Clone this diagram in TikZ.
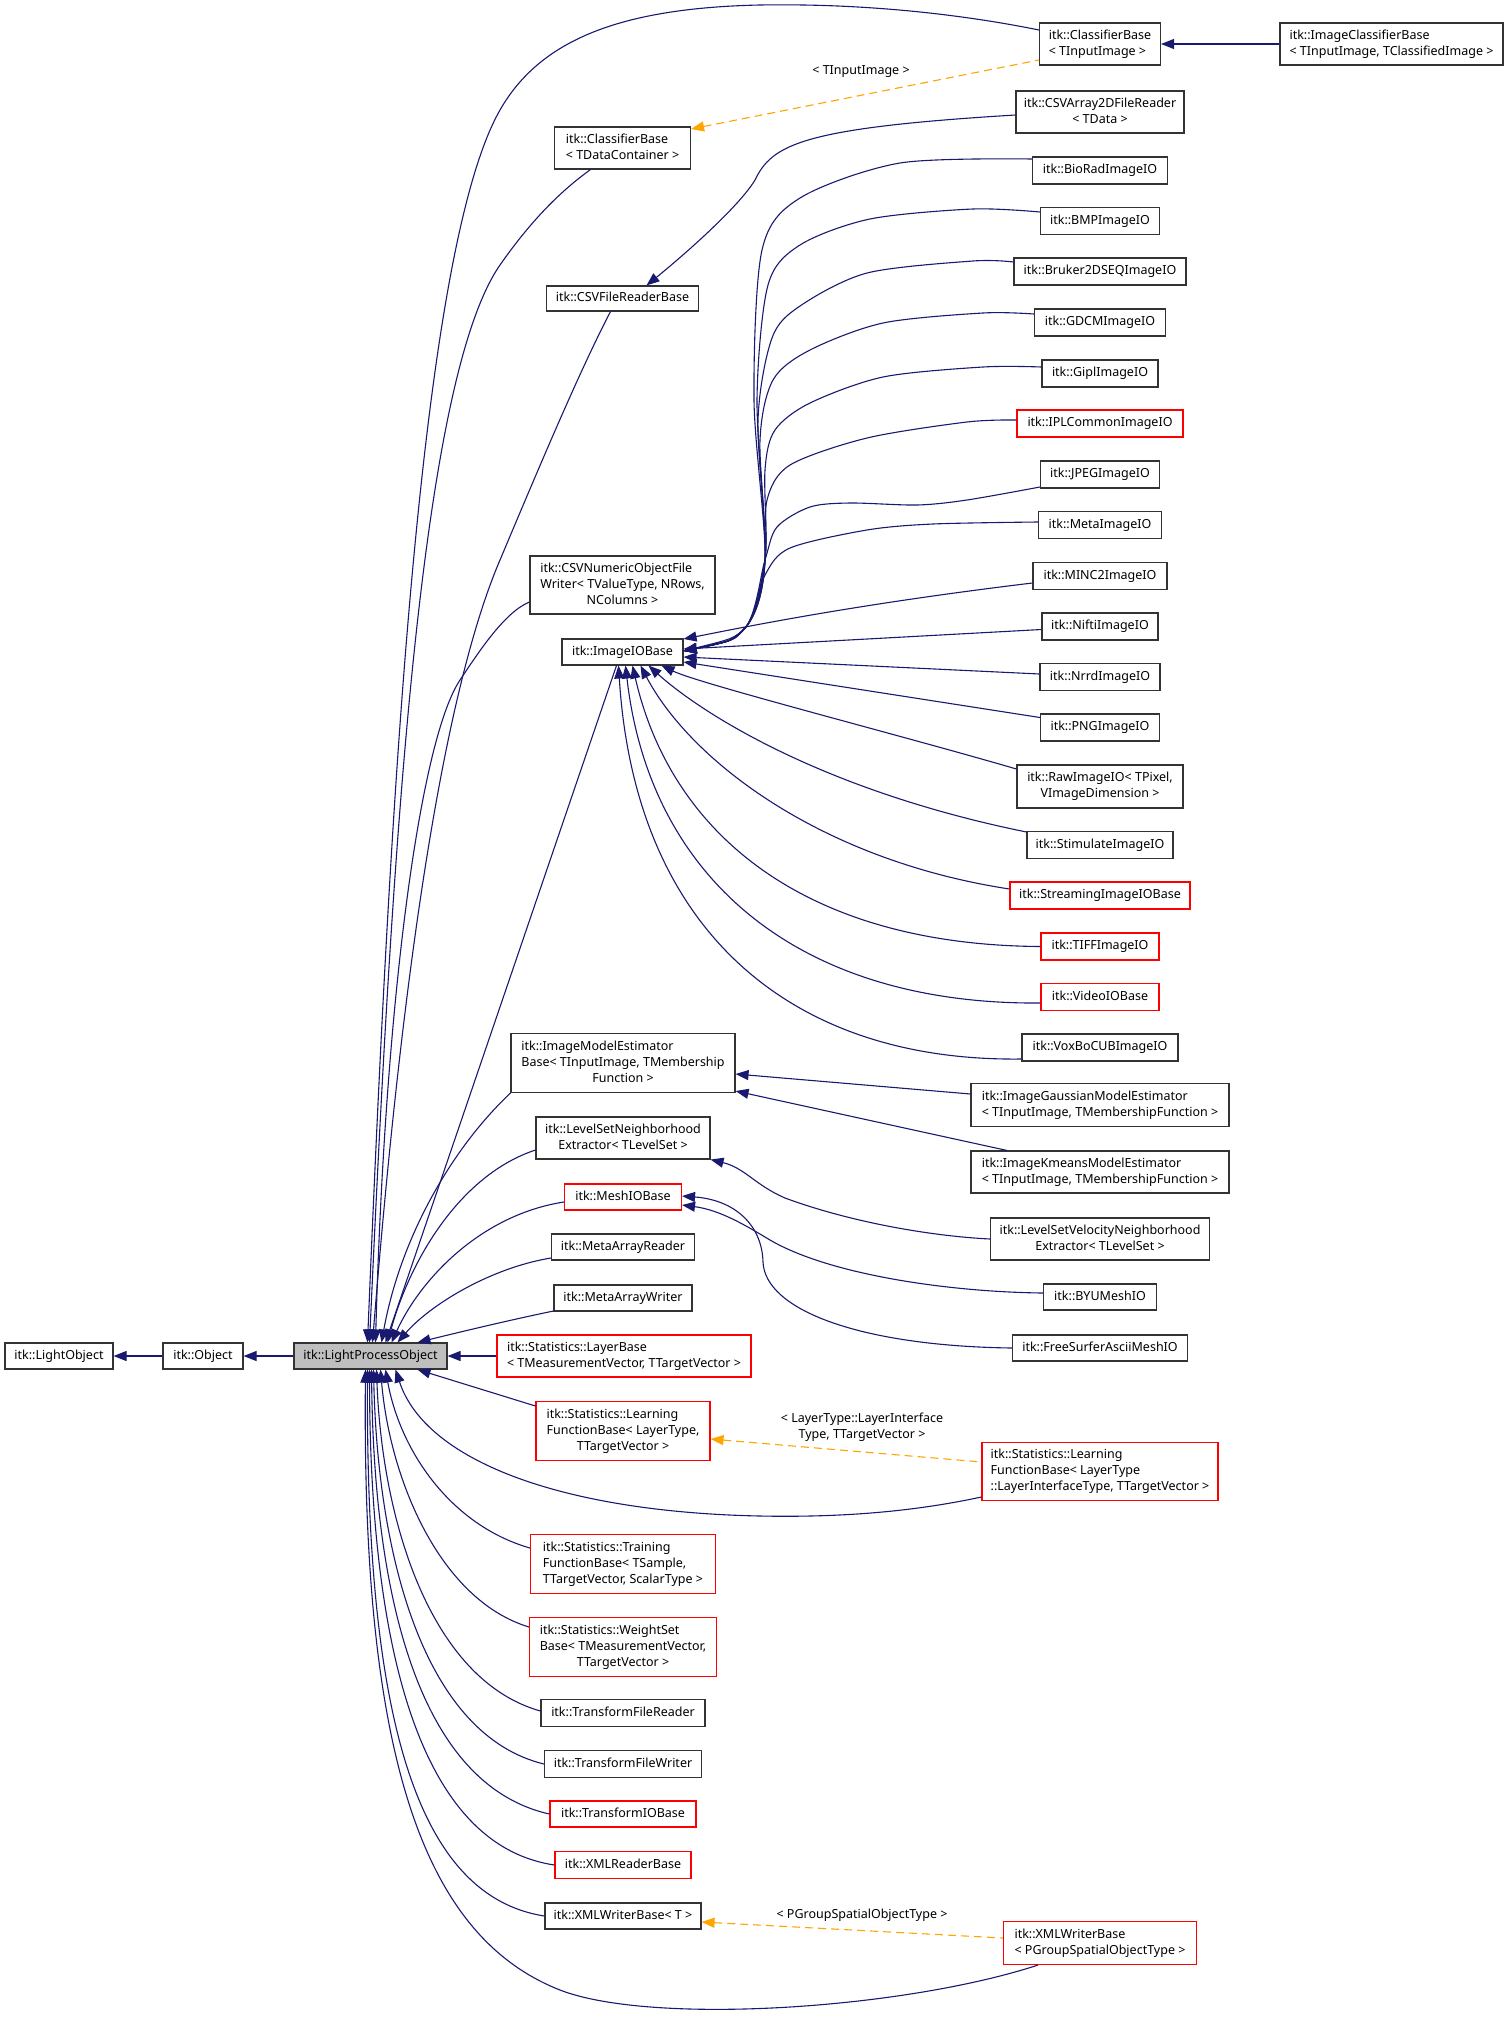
\documentclass[tikz,border=0pt]{standalone}
\usepackage{fontspec}
\setmainfont{Noto Sans}
\usetikzlibrary{arrows.meta}
\definecolor{edgeblue}{HTML}{191970}
\definecolor{boxline}{HTML}{333333}
\definecolor{boxred}{HTML}{FF0000}
\definecolor{tmplorange}{HTML}{FFA500}
\definecolor{lpofill}{HTML}{BFBFBF}
\newcommand\nodefont{\fontsize{12.5}{16}\selectfont}
\newcommand\txtl[1]{\begin{tabular}{@{}l@{}}#1\end{tabular}}
\newcommand\txtc[1]{\begin{tabular}{@{}c@{}}#1\end{tabular}}
\newcommand\lastc[1]{\multicolumn{1}{@{}c@{}}{#1}}
\tikzset{
  box/.style={draw=boxline, line width=1.1pt, fill=white, inner sep=0pt, font=\nodefont, text=black},
  rbox/.style={box, draw=boxred},
  gbox/.style={box, fill=lpofill},
  inh/.style={draw=edgeblue, line width=1.1pt, {Triangle[length=13pt,width=10pt]}-},
  tmpl/.style={draw=tmplorange, line width=1.1pt, dash pattern=on 8pt off 5pt, {Triangle[length=13pt,width=10pt]}-},
  lbl/.style={font=\nodefont, inner sep=0pt, text=black},
}
\begin{document}
\begin{tikzpicture}[x=1pt,y=-1pt]
\useasboundingbox (0,0) rectangle (1509,2018);
\fill[white] (0,0) rectangle (1509,2018);

% ---------- left chain
\node[box,minimum width=108pt,minimum height=26pt] (lo) at (59,1356) {\txtl{itk::LightObject}};
\node[box,minimum width=80pt,minimum height=26pt] (obj) at (203,1356) {\txtl{itk::Object}};
\node[gbox,minimum width=153pt,minimum height=26pt] (lpo) at (370.5,1356) {\txtl{itk::LightProcessObject}};

% ---------- middle column
\node[box,minimum width=136pt,minimum height=42pt] (cb1) at (622.5,148) {\txtl{itk::ClassifierBase\\< TDataContainer >}};
\node[box,minimum width=152pt,minimum height=25pt] (csvr) at (622.5,298.5) {\txtl{itk::CSVFileReaderBase}};
\node[box,minimum width=185pt,minimum height=58pt] (csvw) at (622.5,585) {\txtl{itk::CSVNumericObjectFile\\Writer< TValueType, NRows,\\\lastc{NColumns >}}};
\node[box,minimum width=121pt,minimum height=26pt] (iio) at (622.5,652) {\txtl{itk::ImageIOBase}};
\node[box,minimum width=224pt,minimum height=59pt] (imeb) at (623,1063) {\txtl{itk::ImageModelEstimator\\Base< TInputImage, TMembership\\\lastc{Function >}}};
\node[box,minimum width=174pt,minimum height=42pt] (lsne) at (623,1138) {\txtc{itk::LevelSetNeighborhood\\Extractor< TLevelSet >}};
\node[rbox,minimum width=117pt,minimum height=26pt] (mesh) at (623,1197) {\txtl{itk::MeshIOBase}};
\node[box,minimum width=143pt,minimum height=26pt] (mar) at (623,1247) {\txtl{itk::MetaArrayReader}};
\node[box,minimum width=138pt,minimum height=26pt] (maw) at (623,1298) {\txtl{itk::MetaArrayWriter}};
\node[rbox,minimum width=254pt,minimum height=42pt] (layer) at (624,1356) {\txtl{itk::Statistics::LayerBase\\< TMeasurementVector, TTargetVector >}};
\node[rbox,minimum width=174pt,minimum height=59pt] (lfb) at (623,1431) {\txtl{itk::Statistics::Learning\\FunctionBase< LayerType,\\\lastc{TTargetVector >}}};
\node[rbox,minimum width=185pt,minimum height=59pt] (tfb) at (623,1564) {\txtl{itk::Statistics::Training\\FunctionBase< TSample,\\\lastc{TTargetVector, ScalarType >}}};
\node[rbox,minimum width=187pt,minimum height=59pt] (wsb) at (623,1647) {\txtl{itk::Statistics::WeightSet\\Base< TMeasurementVector,\\\lastc{TTargetVector >}}};
\node[box,minimum width=164pt,minimum height=27pt] (tfr) at (623,1713) {\txtl{itk::TransformFileReader}};
\node[box,minimum width=157pt,minimum height=27pt] (tfw) at (623,1764) {\txtl{itk::TransformFileWriter}};
\node[rbox,minimum width=146pt,minimum height=26pt] (tio) at (623,1814) {\txtl{itk::TransformIOBase}};
\node[rbox,minimum width=136pt,minimum height=27pt] (xrb) at (623,1865) {\txtl{itk::XMLReaderBase}};
\node[box,minimum width=156pt,minimum height=26pt] (xwb) at (623,1916) {\txtl{itk::XMLWriterBase< T >}};

% ---------- right column
\node[box,minimum width=121pt,minimum height=42pt] (cb2) at (1100,44) {\txtl{itk::ClassifierBase\\< TInputImage >}};
\node[box,minimum width=223pt,minimum height=42pt] (icb) at (1391.5,44) {\txtl{itk::ImageClassifierBase\\< TInputImage, TClassifiedImage >}};
\node[box,minimum width=168pt,minimum height=42pt] (csva) at (1100,112) {\txtc{itk::CSVArray2DFileReader\\< TData >}};
\node[box,minimum width=135pt,minimum height=27pt] (bio) at (1100,170.5) {\txtl{itk::BioRadImageIO}};
\node[box,minimum width=119pt,minimum height=27pt] (bmp) at (1100,221) {\txtl{itk::BMPImageIO}};
\node[box,minimum width=172pt,minimum height=27pt] (bruker) at (1100,271.5) {\txtl{itk::Bruker2DSEQImageIO}};
\node[box,minimum width=131pt,minimum height=27pt] (gdcm) at (1100,322.5) {\txtl{itk::GDCMImageIO}};
\node[box,minimum width=116pt,minimum height=27pt] (gipl) at (1100,373.5) {\txtl{itk::GiplImageIO}};
\node[rbox,minimum width=166pt,minimum height=27pt] (ipl) at (1100,423.5) {\txtl{itk::IPLCommonImageIO}};
\node[box,minimum width=119pt,minimum height=27pt] (jpeg) at (1100,474.5) {\txtl{itk::JPEGImageIO}};
\node[box,minimum width=123pt,minimum height=27pt] (metaio) at (1100,525) {\txtl{itk::MetaImageIO}};
\node[box,minimum width=134pt,minimum height=27pt] (minc) at (1100,576) {\txtl{itk::MINC2ImageIO}};
\node[box,minimum width=116pt,minimum height=27pt] (nifti) at (1100,626.5) {\txtl{itk::NiftiImageIO}};
\node[box,minimum width=120pt,minimum height=27pt] (nrrd) at (1100,677) {\txtl{itk::NrrdImageIO}};
\node[box,minimum width=119pt,minimum height=27pt] (png) at (1100,727.5) {\txtl{itk::PNGImageIO}};
\node[box,minimum width=166pt,minimum height=43pt] (raw) at (1100,786.5) {\txtc{itk::RawImageIO< TPixel,\\VImageDimension >}};
\node[box,minimum width=146pt,minimum height=27pt] (stim) at (1100,845) {\txtl{itk::StimulateImageIO}};
\node[rbox,minimum width=180pt,minimum height=27pt] (stream) at (1100,895.5) {\txtl{itk::StreamingImageIOBase}};
\node[rbox,minimum width=118pt,minimum height=27pt] (tiff) at (1100,946.5) {\txtl{itk::TIFFImageIO}};
\node[rbox,minimum width=118pt,minimum height=27pt] (video) at (1100,997) {\txtl{itk::VideoIOBase}};
\node[box,minimum width=156pt,minimum height=27pt] (voxbo) at (1100,1047.5) {\txtl{itk::VoxBoCUBImageIO}};
\node[box,minimum width=258pt,minimum height=43pt] (gauss) at (1100,1105) {\txtl{itk::ImageGaussianModelEstimator\\< TInputImage, TMembershipFunction >}};
\node[box,minimum width=258pt,minimum height=42pt] (kmeans) at (1100,1172) {\txtl{itk::ImageKmeansModelEstimator\\< TInputImage, TMembershipFunction >}};
\node[box,minimum width=219pt,minimum height=42pt] (lsv) at (1100,1239) {\txtc{itk::LevelSetVelocityNeighborhood\\Extractor< TLevelSet >}};
\node[box,minimum width=113pt,minimum height=26pt] (byu) at (1100,1297) {\txtl{itk::BYUMeshIO}};
\node[box,minimum width=175pt,minimum height=26pt] (fs) at (1100,1348) {\txtl{itk::FreeSurferAsciiMeshIO}};
\node[rbox,minimum width=236pt,minimum height=58pt] (lfb2) at (1100,1471.5) {\txtl{itk::Statistics::Learning\\FunctionBase< LayerType\\::LayerInterfaceType, TTargetVector >}};
\node[rbox,minimum width=193pt,minimum height=43pt] (xwb2) at (1100,1943) {\txtl{itk::XMLWriterBase\\< PGroupSpatialObjectType >}};

% ---------- edge labels
\node[lbl] (l1) at (861,72) {< TInputImage >};
\node[lbl] (l2) at (862,1427) {\txtc{< LayerType::LayerInterface\\Type, TTargetVector >}};
\node[lbl] (l3) at (862,1915) {< PGroupSpatialObjectType >};

% ---------- simple edges
\draw[inh] (lo.east) -- (obj.west);
\draw[inh] (obj.east) -- (lpo.west);
\draw[inh] (cb2.east) -- (icb.west);
\draw[inh] (lpo.east) -- (layer.west);

% ---------- template instantiations
\draw[tmpl] ([yshift=19pt]cb1.east) -- ([yshift=-16pt]cb2.west);
\draw[tmpl] ([yshift=-8pt]lfb.east) -- ([yshift=9.5pt]lfb2.west);
\draw[tmpl] ([yshift=-6pt]xwb.east) -- ([yshift=5pt]xwb2.west);

% ---------- edges into LightProcessObject (top)
\draw[inh] ([xshift=-3pt]lpo.north) .. controls (390,800) and (420,250) .. (500,110)
  .. controls (540,40) and (620,8) .. (760,5) .. controls (880,3) and (980,18) .. ([yshift=14pt]cb2.west);
\draw[inh] ([xshift=-1pt]lpo.north) .. controls (392,850) and (420,380) .. (500,265)
  .. controls (535,215) and (565,188) .. ([xshift=-32pt]cb1.south);
\draw[inh] ([xshift=2pt]lpo.north) .. controls (400,1000) and (440,700) .. (500,560)
  .. controls (540,465) and (580,370) .. ([xshift=-12pt]csvr.south);
\draw[inh] ([xshift=5pt]lpo.north) .. controls (385,1000) and (420,740) .. (460,680)
  .. controls (480,650) and (505,612) .. ([yshift=-17pt]csvw.west);
\draw[inh] ([xshift=15pt]lpo.north) -- ([xshift=-6pt]iio.south);
\draw[inh] ([xshift=11pt]lpo.north) .. controls (400,1240) and (450,1150) .. (imeb.south west);
\draw[inh] ([xshift=17pt]lpo.north) .. controls (410,1260) and (460,1175) .. ([yshift=-12pt]lsne.west);
\draw[inh] ([xshift=21pt]lpo.north) .. controls (420,1280) and (480,1215) .. ([yshift=-5pt]mesh.west);
\draw[inh] ([xshift=27pt]lpo.north) .. controls (430,1305) and (490,1268) .. ([yshift=-11pt]mar.west);
\draw[inh] ([xshift=47pt]lpo.north) .. controls (460,1332) and (510,1320) .. ([yshift=-13pt]maw.west);

% ---------- edges into LightProcessObject (bottom)
\draw[inh] ([xshift=47pt]lpo.south) -- ([yshift=25pt]lfb.west);
\draw[inh] ([xshift=25pt]lpo.south) .. controls (425,1460) and (560,1512) .. (760,1516)
  .. controls (860,1518) and (930,1508) .. ([yshift=-25.5pt]lfb2.west);
\draw[inh] ([xshift=15pt]lpo.south) .. controls (400,1450) and (450,1525) .. ([yshift=16pt]tfb.west);
\draw[inh] ([xshift=10pt]lpo.south) .. controls (390,1480) and (440,1600) .. ([yshift=20pt]wsb.west);
\draw[inh] ([xshift=6pt]lpo.south) .. controls (382,1520) and (430,1680) .. ([yshift=2pt]tfr.west);
\draw[inh] ([xshift=3pt]lpo.south) .. controls (378,1560) and (425,1735) .. (tfw.west);
\draw[inh] ([xshift=1pt]lpo.south) .. controls (374,1600) and (420,1785) .. (tio.west);
\draw[inh] ([xshift=-1pt]lpo.south) .. controls (370,1650) and (420,1845) .. (xrb.west);
\draw[inh] ([xshift=-3pt]lpo.south) .. controls (366,1700) and (410,1895) .. (xwb.west);
\draw[inh] ([xshift=-5pt]lpo.south) .. controls (362,1750) and (420,1935) .. (560,1990)
  .. controls (650,2025) and (900,2010) .. ([xshift=-62pt]xwb2.south);

% ---------- CSV reader
\draw[inh] ([xshift=24pt]csvr.north) .. controls (690,250) and (740,205) .. (755,180)
  .. controls (772,145) and (800,128) .. ([yshift=-3pt]csva.west);

% ---------- ImageIOBase bundle (from above)
\draw[inh] plot[smooth] coordinates {([yshift=1pt]iio.east) (745,628) (765,560) (754,400) (762,250) (800,198) (900,163) ([yshift=11.5pt]bio.west)};
\draw[inh] plot[smooth] coordinates {([yshift=1pt]iio.east) (745,628) (765,560) (757,400) (768,285) (800,245) (870,219) (973,209) ([yshift=9pt]bmp.west)};
\draw[inh] plot[smooth] coordinates {([yshift=1pt]iio.east) (745,628) (765,560) (758,420) (772,338) (800,306) (867,273) (973,261) ([yshift=9.5pt]bruker.west)};
\draw[inh] plot[smooth] coordinates {([yshift=1pt]iio.east) (745,628) (765,560) (760,440) (773,380) (810,350) (883,323) (983,313) ([yshift=8.5pt]gdcm.west)};
\draw[inh] plot[smooth] coordinates {([yshift=1pt]iio.east) (745,628) (765,560) (765,470) (775,430) (810,403) (883,377) (983,367) ([yshift=6.5pt]gipl.west)};
\draw[inh] plot[smooth] coordinates {([yshift=1pt]iio.east) (745,628) (765,560) (767,500) (790,465) (867,438) (967,422) ([yshift=3.5pt]ipl.west)};
\draw[inh] plot[smooth] coordinates {([yshift=1pt]iio.east) (745,628) (765,560) (777,527) (810,507) (850,503) (917,505) (967,500) ([yshift=-12.5pt]jpeg.west)};
\draw[inh] plot[smooth] coordinates {([yshift=1pt]iio.east) (745,628) (765,575) (790,548) (867,530) (933,524) ([yshift=3pt]metaio.west)};

% ---------- ImageIOBase (right side, straight)
\draw[inh] ([yshift=13pt]iio.east) .. controls (740,628) and (850,605) .. ([yshift=-7pt]minc.west);
\draw[inh] ([yshift=3pt]iio.east) -- ([yshift=-3pt]nifti.west);
\draw[inh] ([yshift=-5pt]iio.east) -- ([yshift=3pt]nrrd.west);
\draw[inh] ([yshift=-10pt]iio.east) -- ([yshift=10pt]png.west);

% ---------- ImageIOBase (bottom)
\draw[inh] ([xshift=39pt]iio.south) .. controls (700,684) and (900,735) .. ([yshift=17.5pt]raw.west);
\draw[inh] ([xshift=26pt]iio.south) .. controls (700,712) and (820,790) .. ([yshift=13pt]stim.west);
\draw[inh] ([xshift=18pt]iio.south) .. controls (690,760) and (820,860) .. ([yshift=6.5pt]stream.west);
\draw[inh] ([xshift=10pt]iio.south) .. controls (670,830) and (800,945) .. (tiff.west);
\draw[inh] ([xshift=3pt]iio.south) .. controls (650,880) and (800,1005) .. ([yshift=-6pt]video.west);
\draw[inh] ([xshift=-4pt]iio.south) .. controls (635,930) and (790,1062) .. ([yshift=-11.5pt]voxbo.west);

% ---------- model estimators
\draw[inh] ([yshift=-11pt]imeb.east) -- ([yshift=11pt]gauss.west);
\draw[inh] ([yshift=-28pt]imeb.east) -- ([xshift=-93pt]kmeans.north);

% ---------- level set
\draw[inh] (lsne.south east) .. controls (745,1168) and (755,1185) .. (785,1198)
  .. controls (850,1222) and (930,1236) .. (lsv.west);

% ---------- mesh IO
\draw[inh] ([yshift=1pt]mesh.east) .. controls (735,1200) and (762,1225) .. (763,1262)
  .. controls (765,1310) and (860,1346) .. (fs.west);
\draw[inh] ([yshift=-8pt]mesh.east) .. controls (720,1210) and (745,1225) .. (770,1240)
  .. controls (830,1275) and (950,1292) .. ([yshift=4pt]byu.west);
\end{tikzpicture}
\end{document}
